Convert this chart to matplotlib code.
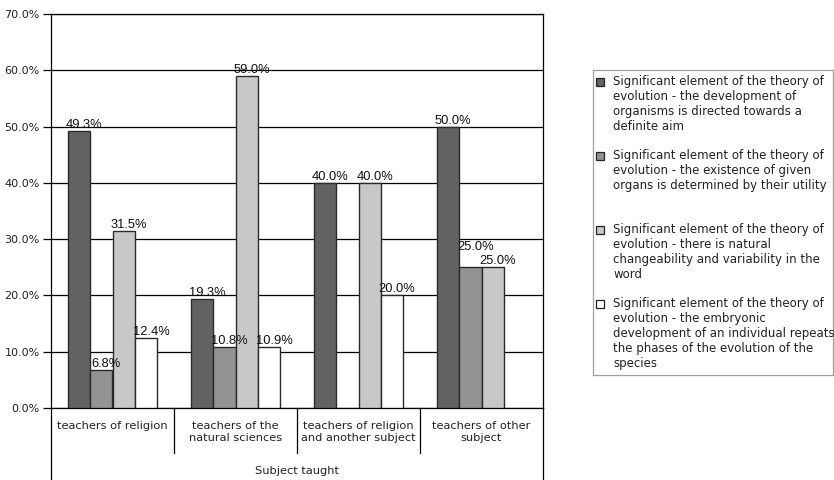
import numpy as np
import matplotlib.pyplot as plt
from matplotlib.patches import Rectangle
from matplotlib.transforms import blended_transform_factory

# categories (x axis) and one list per series, in percent
groups = ["teachers of religion",
          "teachers of the\nnatural sciences",
          "teachers of religion\nand another subject",
          "teachers of other\nsubject"]
aim = [49.3, 19.3, 40.0, 50.0]
utility = [6.8, 10.8, np.nan, 25.0]
variability = [31.5, 59.0, 40.0, 25.0]
embryonic = [12.4, 10.9, 20.0, np.nan]

series_labels = [
    "Significant element of the theory of\nevolution - the development of\norganisms is directed towards a\ndefinite aim",
    "Significant element of the theory of\nevolution - the existence of given\norgans is determined by their utility",
    "Significant element of the theory of\nevolution - there is natural\nchangeability and variability in the\nword",
    "Significant element of the theory of\nevolution - the embryonic\ndevelopment of an individual repeats\nthe phases of the evolution of the\nspecies",
]
colors = ["#626262", "#939393", "#c8c8c8", "#ffffff"]
yticks = np.arange(0, 71, 10)
axis_title = "Subject taught"

W, H = 834, 480
fig = plt.figure(figsize=(W / 100, H / 100), dpi=100)
ax = fig.add_axes([51 / W, 1 - 408 / H, (543 - 51) / W, (408 - 14) / H])

all_series = [aim, utility, variability, embryonic]
bw = 1 / 5.5
x = np.arange(len(groups))
for i, vals in enumerate(all_series):
    xs = x - 2 * bw + (i + 0.5) * bw
    ax.bar(xs, vals, width=bw, color=colors[i], edgecolor="#2a2a2a",
           linewidth=1.0, zorder=3)
    for j, (xi, v) in enumerate(zip(xs, vals)):
        if np.isnan(v):
            continue
        # lift a label when the next bar has the same height, so they don't collide
        nxt = all_series[i + 1][j] if i + 1 < len(all_series) else np.nan
        lift = 14 if v == nxt else 0
        ax.annotate(f"{v:.1f}%", (xi + 0.04, v), xytext=(0, lift),
                    textcoords="offset pixels", ha="center", va="bottom",
                    fontsize=9.3, family="Liberation Sans", color="#111111",
                    zorder=4)

ax.set_xlim(-0.5, len(groups) - 0.5)
ax.set_ylim(0, 70)
ax.set_yticks(yticks)
ax.set_yticklabels([f"{t:.1f}%" for t in yticks], fontsize=8, color="#222222")
ax.yaxis.grid(True, color="black", linewidth=0.9, zorder=0)
ax.tick_params(axis="y", length=6, width=0.9, pad=2, direction="out")
ax.set_xticks([])
for s in ax.spines.values():
    s.set_linewidth(0.9)
    s.set_color("black")

# category table below the plot
tr = blended_transform_factory(ax.transData, ax.transAxes)
for b in np.arange(0.5, len(groups) - 1, 1.0):
    ax.plot([b, b], [0, -0.115], transform=tr, color="black", lw=0.9,
            clip_on=False)
for b in [-0.5, len(groups) - 0.5]:
    ax.plot([b, b], [0, -0.19], transform=tr, color="black", lw=0.9,
            clip_on=False)
for xi, g in zip(x, groups):
    ax.text(xi, -0.032, g, transform=tr, ha="center", va="top",
            fontsize=8.2, linespacing=1.3, color="#222222")
ax.text(0.5, -0.160, axis_title, transform=ax.transAxes, ha="center",
        va="center", fontsize=8.2, color="#222222")

# legend box with square keys beside the first line of each entry
lax = fig.add_axes([593 / W, 1 - 375 / H, 240 / W, 305 / H])
lax.set_xticks([])
lax.set_yticks([])
for s in lax.spines.values():
    s.set_color("#a0a0a0")
    s.set_linewidth(0.9)
top = 75
for i, lab in enumerate(series_labels):
    y0 = top + i * 74
    fig.text(613 / W, 1 - y0 / H, lab, ha="left", va="top", fontsize=8.5,
             linespacing=1.2, color="#222222")
    fig.patches.append(Rectangle((596 / W, 1 - (y0 + 11) / H), 8 / W, 8 / H,
                                 transform=fig.transFigure,
                                 facecolor=colors[i], edgecolor="#222222",
                                 linewidth=0.9))

fig.savefig("out.png", dpi=100)
